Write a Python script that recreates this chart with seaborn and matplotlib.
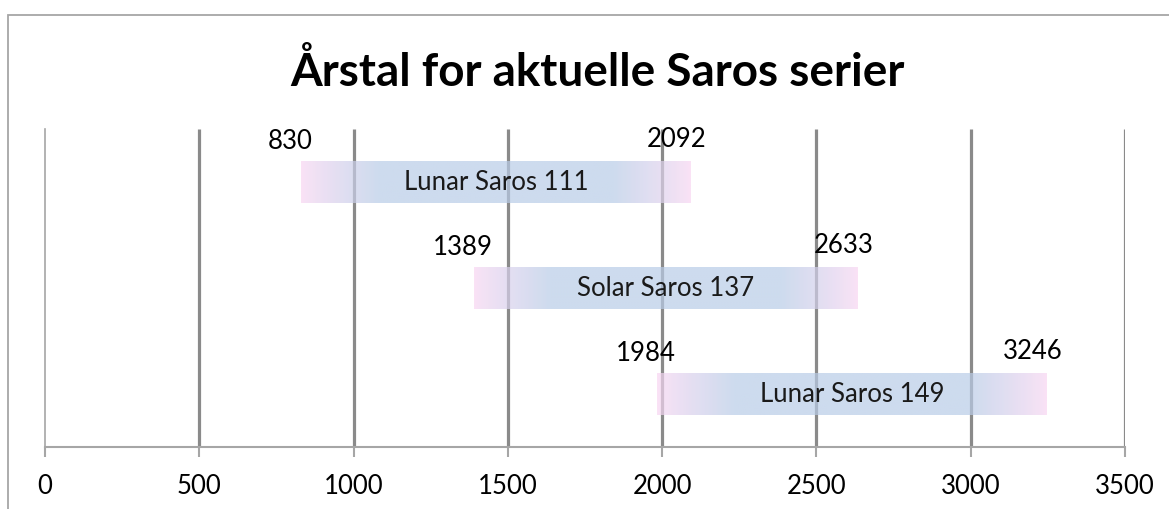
import numpy as np
import pandas as pd
import matplotlib
matplotlib.use("Agg")
import matplotlib.pyplot as plt
import seaborn as sns
from matplotlib.patches import Rectangle

# ---- data ----
series = ["Lunar Saros 111", "Solar Saros 137", "Lunar Saros 149"]
start_years = [830, 1389, 1984]
end_years = [2092, 2633, 3246]
x_ticks = [0, 500, 1000, 1500, 2000, 2500, 3000, 3500]
title = "Årstal for aktuelle Saros serier"

sns.set_theme(style="white")
plt.rcParams["font.family"] = ["Lato", "DejaVu Sans"]

fig = plt.figure(figsize=(11.69, 5.10), dpi=100)
# chart frame (cut off on the right/bottom like the reference)
fig.add_artist(Rectangle((8 / 1169, -0.2), 1.2, 0.2 + (510 - 16) / 510,
                         transform=fig.transFigure, facecolor="none",
                         edgecolor="#A6A6A6", lw=1.3))

ax = fig.add_axes([45 / 1169, (510 - 448) / 510, 1080 / 1169, 318 / 510])

df = pd.DataFrame({"serie": series, "start": start_years, "end": end_years})
df["span"] = df["end"] - df["start"]

sns.barplot(data=df, x="span", y="serie", orient="h", width=0.4,
            color="#CDDBEE", ax=ax, zorder=2)

ax.set_xlim(0, 3500)
ylim = ax.get_ylim()

# gradient: pink at the ends, light blue in the middle (semi-transparent)
n = 256
t = np.linspace(0, 1, n)
pink = np.array([248, 214, 242]) / 255
blue = np.array([184, 204, 231]) / 255
w = np.clip(np.minimum(t, 1 - t) / 0.2, 0, 1) ** 0.9
rgb = pink[None, :] * (1 - w[:, None]) + blue[None, :] * w[:, None]
rgba = np.concatenate([rgb, np.full((n, 1), 0.7)], axis=1)[None, :, :]

for patch, s in zip(ax.patches, df["start"]):
    patch.set_x(s)
    patch.set_facecolor("none")
    patch.set_edgecolor("none")
    x0, y0 = patch.get_x(), patch.get_y()
    x1, y1 = x0 + patch.get_width(), y0 + patch.get_height()
    im = ax.imshow(rgba, extent=[x0, x1, y1, y0], aspect="auto",
                   interpolation="bilinear", zorder=2)
    im.set_clip_path(patch)

ax.set_xlim(0, 3500)
ax.set_ylim(ylim)

# gridlines
ax.vlines(x_ticks[1:], 0, 1, transform=ax.get_xaxis_transform(),
          colors="#8A8A8A", lw=2.3, zorder=1)

for sp in ["top", "right"]:
    ax.spines[sp].set_visible(False)
ax.spines["left"].set_color("#A6A6A6")
ax.spines["left"].set_linewidth(1.2)
ax.spines["bottom"].set_color("#A6A6A6")
ax.spines["bottom"].set_linewidth(1.5)

ax.set_xticks(x_ticks)
ax.set_xticklabels([str(v) for v in x_ticks])
ax.tick_params(axis="x", direction="out", length=7, width=1.5,
               color="#A6A6A6", labelsize=18.5, labelcolor="#000000", pad=12, bottom=True)
ax.set_yticks([])
ax.set_xlabel("")
ax.set_ylabel("")

# labels
for i, (name, s, e) in enumerate(zip(series, start_years, end_years)):
    ax.text((s + e) / 2, i, name, ha="center", va="center", fontsize=18.5,
            color="#1a1a1a", zorder=3)
    ax.annotate(str(s), (s, i), xytext=(-8, 30), textcoords="offset points",
                ha="center", va="center", fontsize=18.5, color="#000000")
    ax.annotate(str(e), (e, i), xytext=(-10, 31), textcoords="offset points",
                ha="center", va="center", fontsize=18.5, color="#000000")

fig.text(597 / 1169, 1 - 72 / 510, title, ha="center", va="center",
         fontsize=33, fontweight="bold", color="#000000")

fig.savefig("out.png", dpi=100, facecolor="white")
